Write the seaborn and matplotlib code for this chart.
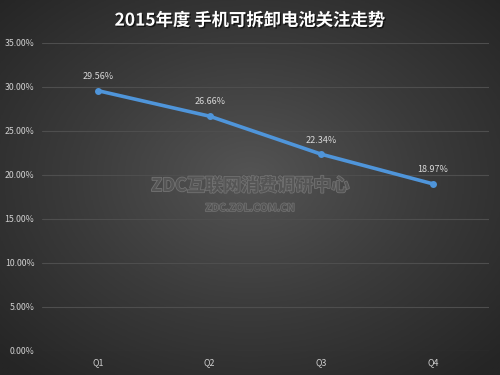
import numpy as np
import pandas as pd
import matplotlib
matplotlib.use("Agg")
import matplotlib.pyplot as plt
import matplotlib.patheffects as pe
import seaborn as sns

quarters = ["Q1", "Q2", "Q3", "Q4"]
share = [29.56, 26.66, 22.34, 18.97]
y_ticks = [0, 5, 10, 15, 20, 25, 30, 35]
title = "2015年度 手机可拆卸电池关注走势"

sns.set_style("dark")
plt.rcParams["font.family"] = ["Noto Sans CJK SC", "DejaVu Sans"]

fig = plt.figure(figsize=(5, 3.75), dpi=100)

# radial gradient background
bg = fig.add_axes([0, 0, 1, 1], zorder=-1)
yy, xx = np.mgrid[-1:1:300j, -1:1:400j]
r = np.sqrt(xx ** 2 + (yy + 0.05) ** 2)
bg.imshow(r, cmap=matplotlib.colors.LinearSegmentedColormap.from_list(
    "bg", ["#545454", "#3b3b3b", "#252525"]), vmin=0, vmax=1.4,
    extent=[0, 1, 0, 1], aspect="auto")
bg.axis("off")

ax = fig.add_axes([0.084, 0.064, 0.894, 0.822])
ax.patch.set_alpha(0)
df = pd.DataFrame({"quarter": quarters, "share": share})
sns.lineplot(data=df, x="quarter", y="share", ax=ax, color="#4f95da",
             linewidth=2.6, marker="o", markersize=5, markeredgewidth=0)
for q, v in zip(quarters, share):
    ax.annotate(f"{v:.2f}%", (q, v), xytext=(0, 7), textcoords="offset points",
                ha="center", va="bottom", fontsize=6.5, color="#d8d8d8")

ax.set_ylim(0, 35)
ax.set_xlim(-0.5, 3.5)
ax.set_yticks(y_ticks)
ax.set_yticklabels([f"{t:.2f}%" for t in y_ticks])
ax.set_xlabel("")
ax.set_ylabel("")
ax.grid(axis="y", color="#4e4e4e", linewidth=0.8)
ax.grid(axis="x", visible=False)
for s in ax.spines.values():
    s.set_visible(False)
ax.tick_params(axis="both", colors="#d0d0d0", labelsize=6.3, length=0, pad=5)
ax.tick_params(axis="y", pad=5.5)

fig.text(0.5, 0.945, title, ha="center", va="center", fontsize=12.5,
         fontweight="bold", color="white",
         path_effects=[pe.withSimplePatchShadow(offset=(1, -1), shadow_rgbFace="black", alpha=0.6)])

# watermark
fig.text(0.5, 0.505, "ZDC互联网消费调研中心", ha="center", va="center", fontsize=13,
         fontweight="bold", color="#555555",
         path_effects=[pe.withStroke(linewidth=1.2, foreground="#727272")])
fig.text(0.5, 0.445, "ZDC.ZOL.COM.CN", ha="center", va="center", fontsize=7.5,
         fontweight="bold", color="#555555",
         path_effects=[pe.withStroke(linewidth=1.0, foreground="#727272")])

fig.savefig("out.png", dpi=100)
